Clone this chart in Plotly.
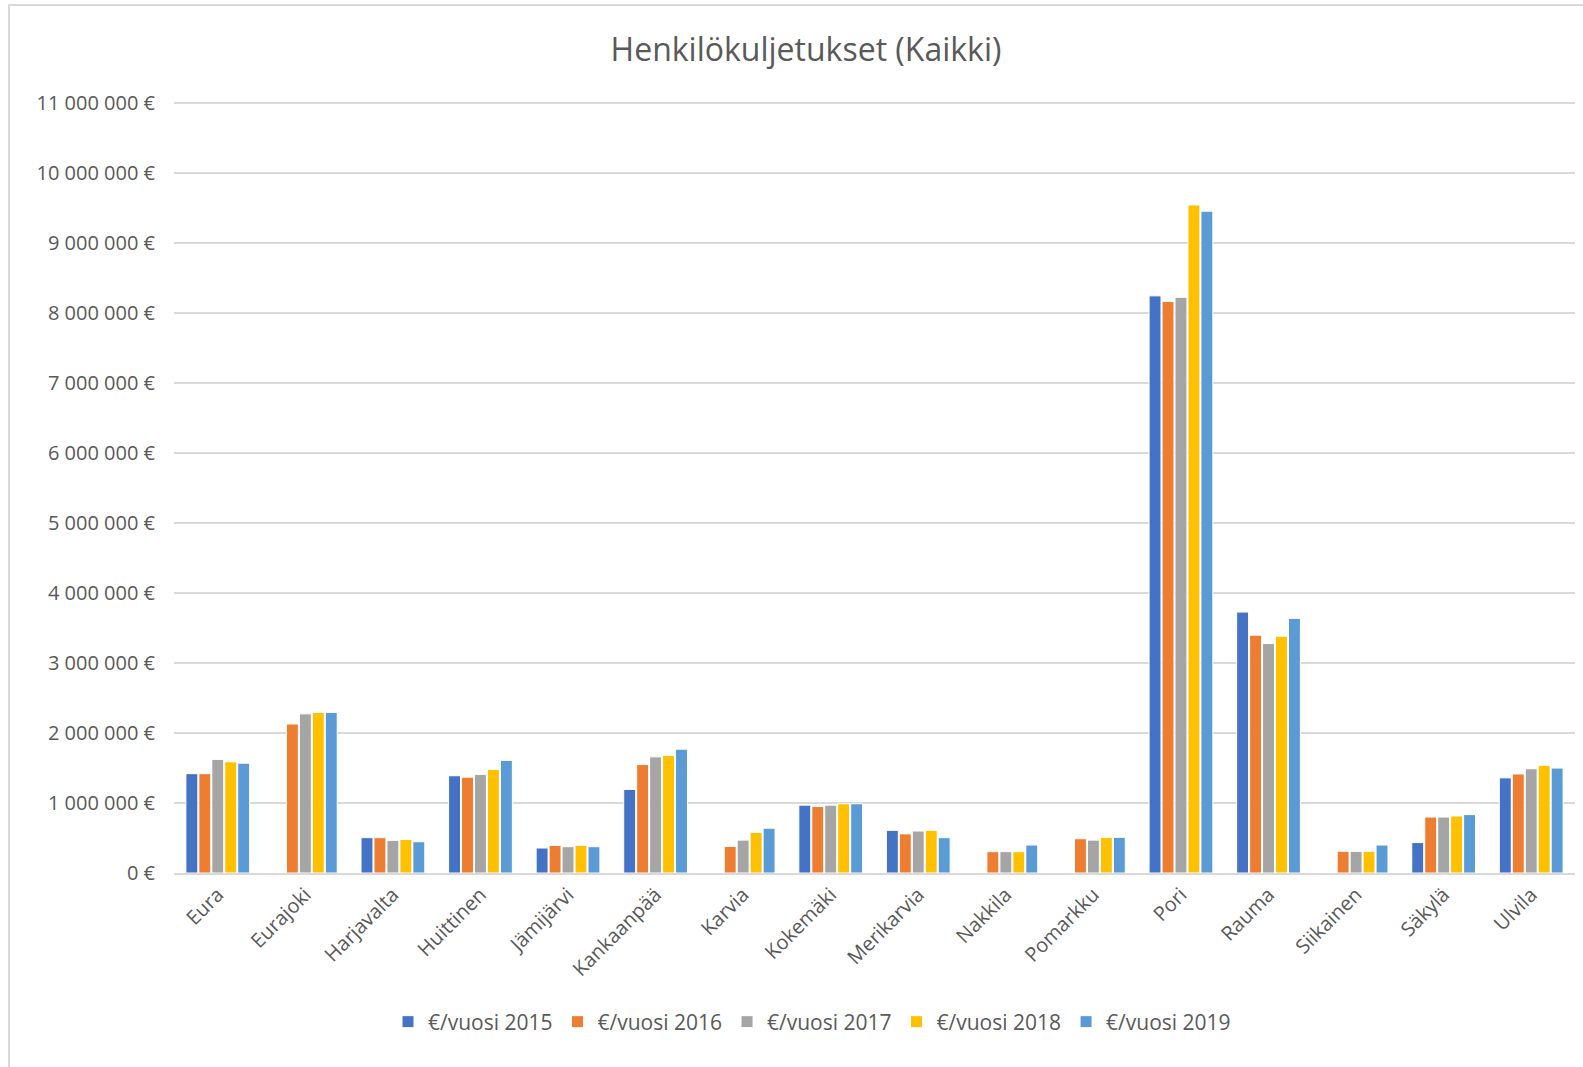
import plotly.graph_objects as go

categories = ["Eura", "Eurajoki", "Harjavalta", "Huittinen", "Jämijärvi", "Kankaanpää",
              "Karvia", "Kokemäki", "Merikarvia", "Nakkila", "Pomarkku", "Pori",
              "Rauma", "Siikainen", "Säkylä", "Ulvila"]

v2015 = [1420000, None, 505000, 1390000, 357000, 1195000, None, 970000, 610000, None, None,
         8250000, 3730000, None, 435000, 1360000]
v2016 = [1420000, 2130000, 505000, 1370000, 395000, 1550000, 380000, 950000, 560000, 305000,
         490000, 8170000, 3400000, 310000, 800000, 1415000]
v2017 = [1624000, 2275000, 467000, 1410000, 376000, 1660000, 470000, 970000, 600000, 305000,
         470000, 8230000, 3280000, 310000, 800000, 1490000]
v2018 = [1590000, 2295000, 480000, 1480000, 395000, 1680000, 580000, 990000, 610000, 305000,
         510000, 9550000, 3385000, 310000, 815000, 1540000]
v2019 = [1570000, 2295000, 447000, 1610000, 376000, 1770000, 640000, 990000, 505000, 400000,
         510000, 9460000, 3640000, 400000, 835000, 1500000]

series_names = ["€/vuosi 2015", "€/vuosi 2016", "€/vuosi 2017", "€/vuosi 2018", "€/vuosi 2019"]
series_values = [v2015, v2016, v2017, v2018, v2019]
colors = ["#4472C4", "#ED7D31", "#A5A5A5", "#FFC000", "#5B9BD5"]

fig = go.Figure()
for name, vals, col in zip(series_names, series_values, colors):
    fig.add_trace(go.Bar(x=categories, y=vals, name=name,
                         marker=dict(color=col, line=dict(color="white", width=1))))

font_family = "Open Sans, Noto Sans, sans-serif"
W, H = 1583, 1067
ymax = 11150000
ml, mr, mt, mb = 174, 8, 93, 194
pw, ph = W - ml - mr, H - mt - mb

def px_x(px):
    return (px - ml) / pw

def px_y(py):
    return (H - mb - py) / ph

fig.update_layout(
    width=W, height=H,
    margin=dict(l=ml, r=mr, t=mt, b=mb),
    paper_bgcolor="white", plot_bgcolor="white",
    separators=", ",
    title=dict(text="Henkilökuljetukset (Kaikki)", x=px_x(806), xanchor="center",
               y=1 - 50 / H, yanchor="middle", xref="paper",
               font=dict(family=font_family, size=32, color="#595959")),
    barmode="group", bargap=0.26, bargroupgap=0.08,
    font=dict(family=font_family, color="#595959"),
    legend=dict(orientation="h", x=px_x(812), xanchor="center", y=px_y(1022), yanchor="middle",
                font=dict(size=21, color="#595959"), traceorder="normal",
                itemwidth=30),
    shapes=[dict(type="rect", xref="paper", yref="paper",
                 x0=px_x(9), x1=px_x(1600), y0=px_y(1080), y1=px_y(5),
                 line=dict(color="#D9D9D9", width=2), fillcolor="rgba(0,0,0,0)",
                 layer="below")],
)
fig.update_yaxes(range=[0, ymax], dtick=1000000, tickformat=",.0f", ticksuffix=" €",
                 showgrid=True, gridcolor="#D9D9D9", gridwidth=2, zeroline=False,
                 tickfont=dict(size=20, color="#595959"), ticks="", ticklabelstandoff=18,
                 showline=False)
fig.update_xaxes(tickangle=-45, tickfont=dict(size=20, color="#595959"),
                 showline=True, linecolor="#D9D9D9", linewidth=2, ticks="")

fig.write_html("out.html")
